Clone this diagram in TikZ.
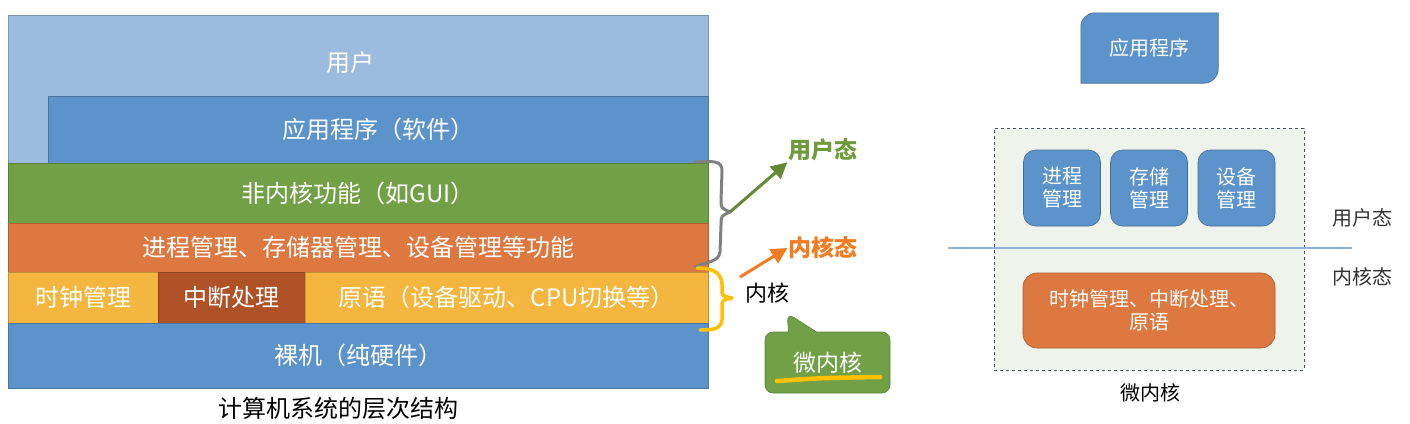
\documentclass[tikz,border=0pt]{standalone}
\usepackage{fontspec}
\setmainfont{Noto Sans CJK SC}
\usetikzlibrary{arrows.meta,shapes.callouts,backgrounds}
\definecolor{userblue}{HTML}{9BBBDF}
\definecolor{appblue}{HTML}{5B93CA}
\definecolor{kgreen}{HTML}{72A047}
\definecolor{korange}{HTML}{DD7841}
\definecolor{kyellow}{HTML}{F4B63E}
\definecolor{kbrown}{HTML}{B05228}
\definecolor{ugreen}{HTML}{6E9B3C}
\definecolor{uorange}{HTML}{F47B20}
\definecolor{pen}{HTML}{FFC000}
\definecolor{paleback}{HTML}{EEF3EB}
\definecolor{sepblue}{HTML}{8DB1CE}
\begin{document}
\begin{tikzpicture}[x=1pt,y=-1pt,
    layer/.style={draw=#1!80!black,fill=#1,line width=0.6pt,text=white,
        font=\fontsize{24}{27}\selectfont,inner sep=0pt,anchor=north west},
    big/.style={font=\fontsize{24}{27}\selectfont,inner sep=1pt},
    small/.style={font=\fontsize{20}{23}\selectfont,inner sep=1pt,align=center},
    mbox/.style={small,rounded corners=12pt,draw=appblue!75!black,fill=appblue,
        text=white,minimum width=77pt,minimum height=76pt,line width=0.6pt},
    kbox/.style={small,rounded corners=14pt,draw=korange!75!black,fill=korange,
        text=white,minimum width=252pt,minimum height=75pt,line width=0.6pt},
    state/.style={font=\bfseries\fontsize{23}{26}\selectfont,inner sep=1pt},
    brace/.style={line width=3pt,line cap=round,line join=round},
    arr/.style={line width=3pt,-{Triangle[length=16pt,width=16pt]}}
]
    \useasboundingbox (0,0) rectangle (1410,423);

    \node[layer=userblue,minimum width=700pt,minimum height=148pt] (user) at (8,15) {};
    \node[big,text=white] (usertxt) at (350,62) {用户};
    \node[layer=appblue,minimum width=660pt,minimum height=67pt] (app) at (48,96) {应用程序（软件）};
    \node[layer=kgreen,minimum width=700pt,minimum height=60pt] (gui) at (8,163) {非内核功能（如GUI）};
    \node[layer=korange,minimum width=700pt,minimum height=49pt] (mgmt) at (8,223) {进程管理、存储器管理、设备管理等功能};
    \node[layer=kyellow,minimum width=149.5pt,minimum height=51pt] (clock) at (8,272) {时钟管理};
    \node[layer=kbrown,minimum width=147.5pt,minimum height=51pt] (intr) at (157.5,272) {中断处理};
    \node[layer=kyellow,minimum width=403pt,minimum height=51pt] (prim) at (305,272) {原语（设备驱动、CPU切换等）};
    \node[layer=appblue,minimum width=700pt,minimum height=65pt] (hw) at (8,323) {裸机（纯硬件）};
    \node[big] (cap) at (338,408) {计算机系统的层次结构};

    \draw[brace,draw=gray] (695,162) .. controls (712,161) and (723,160) .. (722,172)
        -- (721,200) .. controls (721,208) .. (730,212)
        .. controls (721,216) .. (721,225) -- (720,252)
        .. controls (719,262) and (706,262) .. (695,267);
    \draw[brace,draw=pen,line width=3.5pt] (697,268) .. controls (712,268) and (721,272) .. (722,284)
        -- (722,290) .. controls (722,296) .. (732,298)
        .. controls (722,300) .. (722,308) -- (722,320)
        .. controls (721,330) and (710,330) .. (700,330);

    \node[state,text=ugreen] (ustate) at (823,150) {用户态};
    \node[state,text=uorange] (kstate) at (823,248) {内核态};
    \node[font=\fontsize{22}{25}\selectfont,inner sep=1pt] (kern) at (767,293) {内核};
    \coordinate (gtip) at (730,212);
    \coordinate (ktip) at (740,277);
    \draw[arr,draw=ugreen!90!black,fill=ugreen!90!black] (gtip) -- (ustate.south west);
    \draw[arr,draw=uorange,fill=uorange] (ktip) -- (kstate.west);

    \node[rectangle callout,rounded corners=8pt,fill=kgreen,draw=kgreen!80!black,
        line width=0.6pt,text=white,font=\fontsize{23}{26}\selectfont,
        minimum width=125pt,minimum height=61pt,
        callout absolute pointer={(787,313)},callout pointer width=28pt] (micro) at (827.5,362.5) {微内核};
    \draw[line width=4.5pt,line cap=round,draw=pen] (777,381) .. controls (820,378) .. (880,377);

    \node[small,text=white,minimum width=137pt,minimum height=70pt] (mapp) at (1149.5,48) {应用程序};
    \begin{scope}[on background layer]
        \fill[appblue,draw=appblue!75!black,line width=0.6pt] (mapp.south west)
            [rounded corners=14pt] -- (mapp.north west) [sharp corners] -- (mapp.north east)
            [rounded corners=14pt] -- (mapp.south east) [sharp corners] -- cycle;
    \end{scope}

    \node[draw=black!55!cyan!60!black,dashed,fill=paleback,line width=0.6pt,
        minimum width=310pt,minimum height=242pt] (mk) at (1149,249) {};
    \node[mbox] (proc) at (1062,188) {进程\\管理};
    \node[mbox] (mem) at (1149,188) {存储\\管理};
    \node[mbox] (dev) at (1236.5,188) {设备\\管理};
    \node[kbox] (core) at (1149,310.5) {时钟管理、中断处理、\\原语};
    \coordinate (sepL) at (948,248);
    \coordinate (sepR) at (1352,248);
    \draw[sepblue,line width=1.2pt] (sepL) -- (sepR);
    \node[small,text=black!80] (ulabel) at (1362,218) {用户态};
    \node[small,text=black!80] (klabel) at (1362,277) {内核态};
    \node[small] (mcap) at (1150,393) {微内核};
\end{tikzpicture}
\end{document}
